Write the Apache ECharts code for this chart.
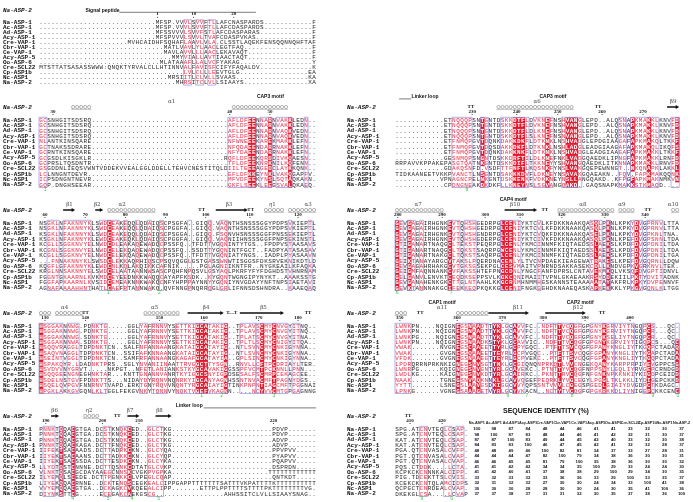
<!DOCTYPE html>
<html><head><meta charset="utf-8">
<script src="https://cdn.jsdelivr.net/npm/echarts@6/dist/echarts.min.js"></script>
<style>html,body{margin:0;padding:0;background:#fff}#c{width:693px;height:502px}</style>
</head><body><div id="c"></div><script>
const NAMES = ['Na-ASP-1','Ac-ASP-1','Ad-ASP-1','Acy-ASP-1','Cre-VAP-1','Cbr-VAP-1','Ce-VAP-1','Acy-ASP-5','Oo-ASP-6','Cre-SCL22','Cp-ASP1b','Nc-ASP1','Na-ASP-2'];
const ID_COLS = ['Na-ASP1','Ac-ASP1','Ad-ASP1','Acy-ASP1','Cre-VAP1','Cbr-VAP1','Ce-VAP1','Acy-ASP5','Oo-ASP6','Cre-SCL22','Cp-ASP1b','Nc-ASP1','Na-ASP-2'];
const ID_VALUES = [
 [100,98,87,84,48,44,46,41,41,33,32,30,37],
 [98,100,87,83,48,44,46,41,42,32,31,30,37],
 [87,87,100,83,49,44,45,42,40,33,32,30,38],
 [84,83,83,100,46,47,45,42,41,32,32,28,37],
 [48,48,49,46,100,82,81,34,37,33,27,28,31],
 [44,44,44,47,82,100,79,34,38,36,30,30,31],
 [46,46,45,45,81,79,100,35,38,36,30,30,32],
 [41,41,42,42,34,34,35,100,29,33,24,24,30],
 [41,42,40,41,37,38,38,29,100,29,34,30,35],
 [33,32,33,32,33,36,36,33,29,100,33,35,37],
 [32,31,32,32,27,30,30,24,34,33,100,41,38],
 [30,30,30,28,28,30,30,24,30,35,41,100,36],
 [37,37,38,37,31,31,32,30,35,37,38,36,100]
];

/* ---- Block L1 ---- */
const L1_seq = [
 '{29}MFSP.VVVLSVVFTLLAFCNASPARDS{12}F',
 '{29}MFSP.VVVLSVVFTLLAFCDASPARDS{12}F',
 '{29}MFSSVVVLSVVFSTLAFCDASPARAS.{12}F',
 '{29}MFSPVVVLSVVLTVAFCDASPVKAS..{12}F',
 '{22}MVHCAIDHFSQHAFLAAVLVLA.CLSSTLAQEKFENSQQNNQHFTAF',
 '{31}MATLVAVLYLAACLEGTFAQ{17}F',
 '{31}MAVLAVVLLLAACLEKAVAQT{16}F',
 '{33}MMYVIALLAVTIAACTAQT{16}F',
 '{30}MLATAAAFLLALVCFYAKAG{18}Y',
 'MTSTTATSASASSWWW:QNQKTYRVALCLLHTINNVALFAVISFCIFYFAQALDV{13}K',
 '{36}LVLCLLLEEVTGLG{17}EA',
 '{32}MRSIITLCLVLLSVAAS{18}KA',
 '{34}MHRSITCLVLLSIAAYS{16}XA'
];
const L1_red = [];
const L1_box = [[36,37],[39,40],[42,43]];
const L1_ruler = [[29,'1'],[38,'10'],[48,'20']];
const L1_helix = [], L1_arrow = [], L1_tt = [], L1_lab = [], L1_green = [];
const L1_motif = [[15.3,'Signal peptide',2]];
const L1_line = [[20,53,2]];

/* ---- Block L2 ---- */
const L2_seq = [
 'GCSNHGITSDSRQ{34}AFLDFEENNARNVAKKLEDN..',
 'GCSNHGITSDSRQ{34}AFLDFEENNARNVAKKLEDN..',
 'GCSNHGITSDSRQ{34}AFLDFEENNARNVAQKVEDN..',
 'GCSNHGITSDSRQ{34}AFLDFEENNARNVAQKVEDN..',
 'NLANTKINSQARE{34}NFWNEEEKAREKMAKKLEFN..',
 'GCTNAKSSDRARE{34}NFQDAEENDARRNAKKLEFN..',
 'GCRNTKINSQARE{34}NFYDAEENDARRNAKKLEFN..',
 'GCGSDLKISGKLR{33}RQFLDFEEKQRDDIVKQAESN..',
 'GCPRSLTQSDNTR{34}TFLDFEEKNRKNILKQFENN..',
 'GSGDDNLIEQSVWNTVDDEKVVEALGGLDDELLTEHVCNESTITQLDIILTEEEAGEDCLAYKKQNK..',
 'LCLNNGNTDEVR.{34}EFLDFKKEYNKLVAKQGAPFV.',
 'ICPSDNGNTNEVR{34}MFVDFEEKYNSLSQTAQKAKN.',
 'GQP.DNGHSEEAR{34}GKFLSEEKLEEGSVALQKAEQ.'
];
const L2_red = [52,53,57,62];
const L2_box = [[0,1],[47,53],[55,57],[59,62],[66,66]];
const L2_ruler = [[3,'30'],[47,'40'],[57,'50']];
const L2_helix = [[8,12],[48,61]], L2_arrow = [], L2_tt = [];
const L2_lab = [[32.5,'α1']];
const L2_motif = [[57.1,'CAP3 motif',0]];
const L2_line = [];
const L2_green = [[1,'1']];

/* ---- Block L3 ---- */
const L3_seq = [
 'NSGKLNFAKNNYKLSWDCEAKEQQLQDAIQSCPSGFA..GIQQ.VAQNTHSNSSSGGYPDPSVKIEPTLSG',
 'NSGKLNFAKNNYKLSWDCEAKEQQLQDAIQSCPGGFA..GIQQ.VAQNTHSNSSSGGYPDPSVKIEPTLSG',
 'KSGKLNFAKNNYKLSWDCEAKEQQLQDAIQSCPSGGA..GIQQ.FSQNVHSNSSSGGFPNSSEKIEPTLSG',
 'KSGKLNFAKNNYKLEWDCEAKEQKLQDAIQSCPGGFA..GIQQ.VAQNIIHNSSSGGFPNPSEKINSTLAS',
 'KCGLLSGGKNVYELNWDCDLEAKAQEWADQCPSSFQ..TFDTTVGQNINTYTGS..FPDPVSTAASAVSF',
 'KCGNLSGGKNVYELNWDCELEKQAQEWADQCPSSFQ..SSDTTYGQNINTFGCT..FADPYATASASAVNS',
 'KCGLLSGGKNVYELNWDCELEKQAQEWADQCPSSFQ..TFDTTVGQNIATYNGS..IADPLPYASAAVNS',
 '...FNNAKNNYKLSWSDCLEKKAQRHIQSCPSQVQGGLGSTGASSWNWTISGGSFDKSRVEKNIKDTLDN',
 'KQGFLGFAKNNYKLEWDCNLKQLAKQIKKCAFNIK.....PGLAGNIIKNTFR..NYGKEAILKFAQKA',
 'KRGLNNSAKNNYELSWDCELAATAANNWSASCPQHFNPQSVLGSYAQLPKRFYFYFDGHDSTVHNRNAMKY',
 'FGGNTGKAARNLKVKMDCEYEEDNKKWAQQCAYAPFKSDK..KYGQNTWGNGIPYNYKT..AAAKSSTGD',
 'FGGFAPKAARNLKVSIDCEMEAKNNKWAKQCNFYHPPPAYNNYYGQNIYNVGDAYYNFTNPSIAETAVIS',
 'AGNAFAAAAHHNTHATLCAEFRTANNWAKQ.QVFNNGPNQRRQGLGRLIFNNSDSHNDRA..KAAEQAQKA'
];
const L3_red = [17];
const L3_box = [[2,4],[6,12],[15,19],[21,21],[24,24],[27,27],[30,30],[37,37],[42,42],[45,46],[62,62],[67,67]];
const L3_ruler = [[1,'60'],[11,'70'],[21,'80'],[31,'90'],[41,'100'],[52,'110'],[64,'120']];
const L3_helix = [[17,28],[56,60],[62,68]];
const L3_arrow = [[6,8],[14,15],[44,51]];
const L3_tt = [[40,'TT'],[52.2,'TT']];
const L3_lab = [[7.1,'β1'],[14,'β2'],[20.2,'α2'],[46.8,'β3'],[57.6,'η1'],[66.5,'α3']];
const L3_motif = [], L3_line = [];
const L3_green = [[16.7,'1'],[29.5,'2']];

/* ---- Block L4 ---- */
const L4_seq = [
 'HSGGAKNNWG.PDNKTG.....GGLYAFRNNVYSETTKIGCATAKIG..TPLAVSCMYCNVGYITNQ',
 'HSGGAKNNWG.PDNKTG.....GGLYAFRNNVYSETTKIGCATAKIG..TPLAVSCMYCNVGYITNQ',
 'HSGGAKNNWG.SDNKTG.....GGLYAFRNNVYSETTKIGCATAKIG..TPLATSCMYCNVGYITNA',
 'HSGGAKNNWA.SDNKTG.....GGLYAFRNNVYSETTKIGCATAKIG..TPLTLSCMYCNIGYITQA',
 'HSQQVRAGGLTDPDNKTCN..SALFNFANNAANGKATAIGCATAYIG..NTLSVNCMYCNKIGYNNA',
 'HSAQVNAGGLTDPDNKTCN..SSIFAFKNNAANGKATAIGCATAYIG..NTLSVNCMYCNKIGYNNA',
 'HSEINTVGGLTDPDNKTCN..SAMFRFANNAANGKAGAFGCATAYIA..GPLSINCMYCNKIGYNNA',
 'HSPAKQYR.LDADNKTPRS..SGLYNVANIINAATTRVGGCTTYSGN..RNVLLCFTPCDRIAYLTER',
 'HSVDVVNYGRVT.....NKPGT..NFETLANIANKSTKYGCAVAKIGGSSPFVCMTPCKNNLLPNN',
 'HSQQGEENGNEGHNKTAR...KNTTGNANNVANRTKYIGGCSNYIGPDSESALFSCMRPCEKAGCEE',
 'HSDELNSTGVFPDNKTTS...NIDAYDYRQNVNQNRKYIGCANYAGNHSSNTNVACMFTPAGNYDGS',
 'HSQELQVPGVFNNRNVTVAPD.ERKTGNYRQVVNQNTYRGCAIAYIGTINKPNPNTIAGCMFTPGGNAIN',
 'HPGKLAKKGVGQNLKLTGGLFEKGVNKYTQNNVYNQKTVGEFVKAGKN.....NCYVVCMTGPGAGNNGK'
];
const L4_red = [0,39,40,41,46,55,58];
const L4_box = [[0,5],[7,9],[13,16],[25,26],[28,31],[34,46],[50,53],[54,61],[63,64]];
const L4_ruler = [[1,'130'],[11.1,'140'],[29.5,'150'],[40.6,'160'],[54.2,'170'],[64,'180']];
const L4_helix = [[0,2],[4,10],[26,34]];
const L4_arrow = [[37,45],[50,60]];
const L4_tt = [[11.1,'TT'],[47.5,'T....T'],[66.5,'TT']];
const L4_lab = [[5.9,'α4'],[28.3,'α5'],[41.1,'β4'],[55.4,'β5']];
const L4_motif = [], L4_line = [];
const L4_green = [[40,'1'],[45,'2'],[58,'3']];

/* ---- Block L5 ---- */
const L5_seq = [
 'PNNKTQQACGTGA.DCSTKNQKCED..GLCTKG{25}PDVP{7}',
 'PNNKTQQACGTGA.DCSTKNQKCED..GLCTKG{25}PDVP{7}',
 'PNNKTQQACGTGA.DCSTKNQKCED..GLCTKG{25}ADVP{7}',
 'PNNKTQQACKAGA.DCTTFNQKCED..GLCTKG{25}ADVP{7}',
 'IIFEKTSACAADS.DCTTADRKCKN..GLCYQA{25}PPVPVV{5}',
 'IIYEKTSACAANS.DCTTADKKCKN..GLCYQP{25}PYAPVV{5}',
 'IIYEKTSACSSDA.DCTTESDKCKN..GLCYKA{25}PQAPVV{5}',
 'LLYDTQSTCNNNE.DCTTQSNKCDTATGLCVKP{25}DSPRDN{5}',
 'VLNKTQSACGCDAYAAEGCNNSKCVGKPVGPKA{24}TTTTTTTTTTTT',
 'ILYEMQLSCEDE.DCTTPGNKKCLVPEGLCQAP{25}QNTKDT{5}',
 'LIYEKQQACRNNE..DCKTENQSCEGKEALCIPPGAPPTTTTTTTSATTTVKPATTTTKTTTTTTTTTTPTT',
 'VVYEMQQACGTGA..DCKAGKCVKQEEALCIPP{7}ETTPLPPTTTTSTTTTPKTTTTTTTTVG.',
 'DIYNKSTTCG.....ECEGAKCAEKGSCG{17}AHHSSITCLVLLSIAAYSNAG..'
];
const L5_red = [5,8,22];
const L5_box = [[1,3],[5,5],[8,8],[16,17],[20,22],[27,30]];
const L5_ruler = [[1.2,'190'],[15.3,'200'],[24.4,'210'],[57.9,'220']];
const L5_helix = [[11,14]];
const L5_arrow = [[3,4],[22,24],[29,32]];
const L5_tt = [[19,'TT']];
const L5_lab = [[3.4,'β6'],[12,'η2'],[22.2,'β7'],[29.5,'β8']];
const L5_motif = [[36.9,'Linker loop',0]];
const L5_line = [[41,68,0]];
const L5_green = [[7.9,'4'],[16.7,'5'],[22.7,'4'],[29.3,'5']];

/* ---- Block R1 ---- */
const R1_seq = [
 '{12}ETNQQQPSNTGNTDSKKDTFLDVKNEFNSHVANGLEPD..ALQSNAPKMAKKLKNVFD',
 '{12}ETNQQQPSNTGNTDSKKDTFLDVKNEFNSHVANGLEPD..ALQSNAPKMAKKLKNVFD',
 '{12}ETNQQQPSNTGNTDSKKDTFLDLKNEFNSHVANGLEPD..ALQSNAPKMAKKLKNVFD',
 '{12}ETNQQQPSNTGNTDSKKDTFLSLKNEFNSNVANGLEPD..ALQSNAPKMAKKLKNVFD',
 '{12}ETFNMQPGVTDQNKDAKKDKFLDTKNKLNSHVADGLEPDGIAAGAFAPKMAKQLTKKFD',
 '{12}ETFNMQPGVTDQSDAKKDKFLDTKNKLNSHLADGLEADGIAAGAFAPKMAKQLIKQFS',
 '{12}ETFNMQPGVTDQNKDAKKNKFLDTKNKLNSHVADGLEADGIAAGAFAPKMAKKLTKKFD',
 '{12}GESNMQPSNGNTDSKKDRFTILDLKNEFNKLVADGQAEDKLIPNGFAPKMAKKLRNFD',
 'RRPAVVKPPAKEPASGTQATNKGNTDSKKDIFLTKKNEYYSHVANGQAEDKLITKNNAPKMAKKLRNVFD',
 '{12}GDAKQSNFD.VSDFTTFNFTLKQSNKFYNSLVAKGQEPEWNNGT..NKQNAPKLAKKLNKVFD',
 'TIDKAANEETVKKPVANCTLNSGNTDSAKKKDVFLDKNEYNSAVAKGQAEAKN..FQV.FAPKMAKQQNKFD',
 '{11}VPNAGNCPELNKGNTDSKKENKFVDKKNEYNSLLANGQAKD..KFPGFAPKMAKNMKVNFD',
 '{12}CPDNGNEAKDKDKFLLKNEYNSLSGVANGQAKD..GAQSNAPKMAKKSTKMAQD'
];
const R1_red = [21,29,30,31,37,42,43,44,58,62,69];
const R1_box = [[14,18],[21,22],[26,32],[34,38],[41,45],[55,56],[58,64],[68,69]];
const R1_ruler = [[18.5,'230'],[29.5,'240'],[39.6,'250'],[50.5,'260'],[60.6,'270']];
const R1_helix = [[25,43]];
const R1_arrow = [[67,69]];
const R1_tt = [[18.2,'TT'],[49.5,'TT']];
const R1_lab = [[34.5,'α6'],[68,'β9']];
const R1_motif = [[6.9,'Linker loop',0],[38.4,'CAP3 motif',0]];
const R1_line = [[1,3,0]];
const R1_green = [[17.2,'8']];

/* ---- Block R2 ---- */
const R2_seq = [
 'GEVGAGAIRHGNKEVTQHSHGEDRPGLCENIYKTCVLKFDKKNAAKQASQLPKNLKPKYDVGPRNVLTTA',
 'GEVGAGAIRHGNKEVTQHSHGEDRPGLCENIYKTCVLKFDKKNAAKQASQLPKNLKPKYDVGPRNVLTTA',
 'GEVGAGAIRHGNKEVTQHSHGNDRPGLCENIYKTCVQKFDKKNAAKQASELPKNLKPKYDVGPKNLTNA',
 'GEVGAGAIRHGNKEVTQHSHGDERPGLCENIYKTCIVKFDKKNAAKQASQLPKNLKPEFDVGPSNNLTDA',
 'GTIGANARTNAQGCLTEKSTPEQRPGLCENLYKMCINNMFKIQTAEDSSLAEKSLKPDFDVGPDNILTDA',
 'GTIGANARTNAQGCLTQKSTSAQRPGWCENLYKMCINNMFKIQTAEDSSLAEKSLKPDFDVGPDNILTDA',
 'GTIGANARTNAKGCLTQKSTSAQRPGLCENLYKMCINNMFKIQTAEDSSLAEKSLKPDFDVGPDNILTGA',
 'GEIKTANAYARGCVTAKSLPQERDNACENLYLTVCNPDAEKIEAGEWATRAKESLKPEFDVGQRNLLDQW',
 'GEVGAGAHRHAKGCVTGKSGSEKPGLCESVMAITVPNRNDSAKKASEKCDLLKNDVGPKVGRKNVLTEK',
 'GEIGMFAQNNANKCVFAKSSHTEFPNGCDNLYNGCFANFDPRSLCNTAVEKMKQLVKSQFDVGPTIDNVLTPE',
 'GELGANVLENVKTCEQDKSEPPSVLKGKCQNIMAIITVPNLGKAEAAKRSYDDEKIILPKTYDVITADNKIGID',
 'GEVGANAHENKGKCTTGLNTAAHLKKGCRNMHNMMHGSKANNSTEAAAAATAYAKFRLKPKYDVPENNVFTMN',
 'GEVKTANNNAKGCIFEKKEQPKQKKGLCENIFNGKGGHDKNAAEQASKAPKEKKKLYPKGVGQNLKLTGG'
];
const R2_red = [0,3,13,26,27,28,49,52,59];
const R2_box = [[0,1],[3,4],[6,6],[13,15],[17,19],[26,30],[35,35],[48,50],[52,52],[58,60],[62,65]];
const R2_ruler = [[0.2,'280'],[11.1,'290'],[21.7,'300'],[30.3,'310'],[40.6,'320'],[51.2,'330'],[61.1,'340']];
const R2_helix = [[0,11],[40,53],[55,58],[68,69]];
const R2_arrow = [[27,34]];
const R2_tt = [[36.4,'TT'],[61.8,'TT']];
const R2_lab = [[5.2,'α7'],[29.1,'β10'],[45.8,'α8'],[55.4,'α9'],[68,'α10']];
const R2_motif = [[28.6,'CAP4 motif',0]];
const R2_line = [];
const R2_green = [[0,'6'],[13.3,'7']];

/* ---- Block R3 ---- */
const R3_seq = [
 'LWNKPN....NQIGNEGSNAADTTYKLGCAVVFC..NDFTTVCQGFGPGNYKGRVIYTNGQPCS...QC',
 'LWNKPN....NQIGNEGSNAADTTYKLGCAVVFC..NDFTTVCQGFGPGNYKGRVIYTNGQPCR...QC',
 'LWNKPG....NQIGNEGSNAADTTYKLGCAVVFC..NDFTTVCQGFGPGNYKSELIYTNGQPCR...QC',
 'LWNKPN....NQIGNEGSNAADKSTYKLGCAVVIC..NDFTTVCQGFGPGNYKGRVIYTIGQPCS...QC',
 'VWAK.......NVGNEGSCAAEETTYRLGCPYGQC..PTFTTSVCQGFGPANYKNGLIYTKGQPCTADAQC',
 'VWAK.......GVGNEGSQAAEETTEYRLGCPVGQC..PTFTTSVCQGFGPANYKNGLIYTKGAPCTADAQC',
 'VFDK.......GVGNEGSNAAEGTTEYRLGCPVEKC..PTFTTSVCQGFGPANYKNGLIYTKGQPCTADAQC',
 'LPDRQRRNPRKNKIGNEGSNVSGTTNKLGCGIQNQNPRKQTLVVCNGEKQANYKARPPRPIYEVGPPCSGC',
 'LWNRPG.....KQIGNEGSNVGNTYRLGCAVEKC..PTNTTYVCQGFNPPSNYLGQLIYRVGEPCRNDGDC',
 'LWDLKG.....KAIGNEGSNVKDTYRLGCAIRKC..PKNTTRVCQGFNFGNKNPKKNKIYKIGDPCEIDDQC',
 'NAAK.......TGNEGSNVAQKNNKLGCAVVQGEFPEQRKLYVGCEGYLPGGLTKLKKLIYDIGEPCKKDEIC',
 'YYTT.......LSNEGSLAAVGSDKIGGCVVYQPSSNTVVVLCGEGSPGEDLGIAIYDVGDPCTKDAGC',
 'LPNKG......VGNEGSAAAGETVYRLGCYVKACN..NCTYTVCQGFGPGKRKKDLIYNIGEPCKKCENC'
];
const R3_red = [15,18,20,24,25,29,40,43,51,62,69];
const R3_box = [[0,3],[15,22],[24,27],[29,31],[35,38],[39,45],[48,53],[54,58],[61,63],[69,69]];
const R3_ruler = [[0.7,'350'],[14.8,'360'],[25.9,'370'],[36,'380'],[46.3,'390'],[57.4,'400']];
const R3_helix = [[0,2],[15,22]];
const R3_arrow = [[23,32],[37,46]];
const R3_tt = [[5.7,'TT'],[50.5,'TT']];
const R3_lab = [[11.1,'α11'],[29.8,'β11'],[44.6,'β12']];
const R3_motif = [[11.1,'CAP1 motif',0],[45.1,'CAP2 motif',0]];
const R3_line = [];
const R3_green = [[27.3,'6'],[32,'7'],[43.1,'8'],[63,'9'],[69.2,'0']];

/* ---- Block R4 ---- */
const R4_seq = [
 'SPG.ATCNVTEQLCSAP.',
 'SPG.ATCNVTEQLCSAP.',
 'KAT.ATCNVTEQLCSAP.',
 'KAT.ATCNVTEQLCSAP.',
 'PGA.QTCNVASALCVFP.',
 'PGT.QTCNVASALCVAP.',
 'PGT.QTCNVASALCVAP.',
 'PQS.CTDDK....LCTA.',
 'KCPKCKCNNNKALCIPP.',
 'PIG.TDCEKTTSLCVIS.',
 'KCEKCKCNTQLAMCIDPS',
 'QCPGCTCNRDEALCVAP.',
 'DKEKGLCSA....LCVAP'
];
const R4_red = [];
const R4_box = [[6,7],[12,13],[15,16]];
const R4_ruler = [[3.2,'410'],[11.1,'420']];
const R4_helix = [], R4_arrow = [], R4_lab = [], R4_motif = [], R4_line = [];
const R4_tt = [[2.7,'TT']];
const R4_green = [[6.1,'9'],[13.5,'0']];

const BLOCKS = [
 {x:36, nameX:0, y0:17, ncol:69, seq:L1_seq, red:L1_red, box:L1_box, ruler:L1_ruler, helix:L1_helix, arrow:L1_arrow, tt:L1_tt, lab:L1_lab, motif:L1_motif, line:L1_line, green:L1_green},
 {x:36, nameX:0, y0:120, ncol:69, seq:L2_seq, red:L2_red, box:L2_box, ruler:L2_ruler, helix:L2_helix, arrow:L2_arrow, tt:L2_tt, lab:L2_lab, motif:L2_motif, line:L2_line, green:L2_green},
 {x:36, nameX:0, y0:223, ncol:69, seq:L3_seq, red:L3_red, box:L3_box, ruler:L3_ruler, helix:L3_helix, arrow:L3_arrow, tt:L3_tt, lab:L3_lab, motif:L3_motif, line:L3_line, green:L3_green},
 {x:36, nameX:0, y0:326, ncol:69, seq:L4_seq, red:L4_red, box:L4_box, ruler:L4_ruler, helix:L4_helix, arrow:L4_arrow, tt:L4_tt, lab:L4_lab, motif:L4_motif, line:L4_line, green:L4_green},
 {x:36, nameX:0, y0:429, ncol:69, seq:L5_seq, red:L5_red, box:L5_box, ruler:L5_ruler, helix:L5_helix, arrow:L5_arrow, tt:L5_tt, lab:L5_lab, motif:L5_motif, line:L5_line, green:L5_green},
 {x:395, nameX:347, y0:120, ncol:70, seq:R1_seq, red:R1_red, box:R1_box, ruler:R1_ruler, helix:R1_helix, arrow:R1_arrow, tt:R1_tt, lab:R1_lab, motif:R1_motif, line:R1_line, green:R1_green},
 {x:395, nameX:347, y0:223, ncol:70, seq:R2_seq, red:R2_red, box:R2_box, ruler:R2_ruler, helix:R2_helix, arrow:R2_arrow, tt:R2_tt, lab:R2_lab, motif:R2_motif, line:R2_line, green:R2_green},
 {x:395, nameX:347, y0:326, ncol:70, seq:R3_seq, red:R3_red, box:R3_box, ruler:R3_ruler, helix:R3_helix, arrow:R3_arrow, tt:R3_tt, lab:R3_lab, motif:R3_motif, line:R3_line, green:R3_green},
 {x:395, nameX:347, y0:429, ncol:18, seq:R4_seq, red:R4_red, box:R4_box, ruler:R4_ruler, helix:R4_helix, arrow:R4_arrow, tt:R4_tt, lab:R4_lab, motif:R4_motif, line:R4_line, green:R4_green}
];

const CW = 4.06, RH = 5.4;
const RED = '#e3172c', BOXTXT = '#ea2a45', FRAME = '#8f8fdc';
const CATS = ['m','l','s','r'].concat(NAMES).concat(['f']);
const expand = s => s.replace(/\{(\d+)\}/g, (m, n) => '.'.repeat(+n));
const fit = (s, n) => (s + '.'.repeat(n)).slice(0, n);

function txt(x, y, text, font, fill){
  return {type:'text', x:x, y:y, style:{text:text, font:font, fill:fill, align:'center', verticalAlign:'middle', textAlign:'center', textVerticalAlign:'middle'}};
}
function cellRender(params, api){
  const p = api.coord([api.value(0), api.value(1)]);
  const bw = api.size([1, 0])[0];
  const cls = api.value(3);
  const ch = String.fromCharCode(api.value(2));
  const fill = cls === 2 ? '#ffffff' : (cls === 1 ? BOXTXT : '#2a2a2a');
  const font = cls === 2 ? 'bold 6px "Liberation Mono"' : '6px "Liberation Mono"';
  const t = txt(p[0], p[1] + 0.3, ch, font, fill);
  if (cls === 2) {
    return {type:'group', children:[
      {type:'rect', shape:{x:p[0]-bw/2, y:p[1]-RH/2, width:bw+0.25, height:RH+0.25}, style:{fill:RED}}, t]};
  }
  return t;
}
function frameRender(params, api){
  const a = api.coord([api.value(0), api.value(1)]);
  const b = api.coord([api.value(2), api.value(3)]);
  return {type:'rect', shape:{x:a[0], y:a[1]-RH/2, width:b[0]-a[0], height:b[1]-a[1]+RH},
          style:{fill:'none', stroke:FRAME, lineWidth:0.7}};
}
function annRender(a, api){
  const bw = api.size([1, 0])[0];
  const X = c => api.coord([c + 0.5, 0])[0];
  const Y = r => api.coord([0, r])[1];
  if (a.k === 'helix') {
    const y = Y(2) - 2.2, ch = [];
    for (let c = a.s; c <= a.e; c++) ch.push({type:'circle', shape:{cx:X(c), cy:y, r:bw*0.4}, style:{fill:'none', stroke:'#666', lineWidth:0.5}});
    ch.push({type:'line', shape:{x1:X(a.s)-bw/2, y1:y+bw*0.4+0.8, x2:X(a.e)+bw/2, y2:y+bw*0.4+0.8}, style:{stroke:'#888', lineWidth:0.5}});
    return {type:'group', children:ch};
  }
  if (a.k === 'arrow') {
    const y = Y(2) - 2.2, x1 = X(a.s) - bw/2, x2 = X(a.e) + bw/2;
    const hl = Math.min(3.5, (x2 - x1) * 0.5);
    return {type:'polygon', shape:{points:[[x1,y-0.7],[x2-hl,y-0.7],[x2-hl,y-2.1],[x2,y],[x2-hl,y+2.1],[x2-hl,y+0.7],[x1,y+0.7]]}, style:{fill:'#111'}};
  }
  if (a.k === 'tt') return txt(X(a.c), Y(2) - 2.2, a.t, 'bold 5px "Liberation Serif"', '#111');
  if (a.k === 'lab') return txt(X(a.c), Y(1) - 1.8, a.t, '5.5px "DejaVu Serif"', '#444');
  if (a.k === 'motif') return txt(X(a.c), Y(a.r) - (a.r === 0 ? 1.5 : 2.2), a.t, 'bold 5px "Liberation Sans"', '#111');
  if (a.k === 'line') {
    const y = Y(a.r) - (a.r === 0 ? 1.5 : 2.2) + 2;
    return {type:'line', shape:{x1:X(a.s)-bw/2, y1:y, x2:X(a.e)+bw/2, y2:y}, style:{stroke:'#444', lineWidth:0.7}};
  }
  if (a.k === 'ruler') {
    return {type:'group', children:[
      txt(X(a.c), Y(3) - 3.3, a.t, 'bold 5px "Liberation Serif"', '#111'),
      {type:'circle', shape:{cx:X(a.c), cy:Y(3) - 0.2, r:0.5}, style:{fill:'#111'}}]};
  }
  if (a.k === 'green') return txt(X(a.c), Y(17) - 0.5, a.t, '5px "Liberation Sans"', '#3fc43f');
  return null;
}

const grids = [], xAxes = [], yAxes = [], series = [];
BLOCKS.forEach((b, i) => {
  grids.push({left:b.x, top:b.y0 - 4.5*RH, width:b.ncol*CW, height:18*RH});
  xAxes.push({gridIndex:i, type:'value', min:0, max:b.ncol, show:false});
  yAxes.push({gridIndex:i, type:'category', data:CATS, inverse:true,
    axisLine:{show:false}, axisTick:{show:false}, splitLine:{show:false},
    axisLabel:{interval:0, align:'left', margin:b.x - b.nameX, fontFamily:'Liberation Mono', fontWeight:'bold', fontSize:6, color:'#111',
      formatter:v => v === 's' ? '{i|Na-ASP-2}' : (v.length > 1 ? v : ''),
      rich:{i:{fontStyle:'italic', fontWeight:'bold', fontFamily:'Liberation Mono', fontSize:6, color:'#111', padding:[0,0,4,0]}}}});
  const red = new Set(b.red), boxed = new Set();
  b.box.forEach(([s, e]) => { for (let c = s; c <= e; c++) boxed.add(c); });
  const cells = [];
  b.seq.forEach((s0, r) => {
    const s = fit(expand(s0), b.ncol);
    for (let c = 0; c < b.ncol; c++) {
      const ch = s[c];
      const cls = (red.has(c) && ch !== '.') ? 2 : ((boxed.has(c) && ch !== '.') ? 1 : 0);
      cells.push([c + 0.5, 4 + r, ch.charCodeAt(0), cls]);
    }
  });
  series.push({type:'custom', xAxisIndex:i, yAxisIndex:i, data:cells, renderItem:cellRender, silent:true, z:2});
  series.push({type:'custom', xAxisIndex:i, yAxisIndex:i, data:b.box.map(([s, e]) => [s, 4, e + 1, 16]), renderItem:frameRender, silent:true, z:3});
  const ann = [];
  b.helix.forEach(([s, e]) => ann.push({k:'helix', s, e}));
  b.arrow.forEach(([s, e]) => ann.push({k:'arrow', s, e}));
  b.tt.forEach(([c, t]) => ann.push({k:'tt', c, t}));
  b.lab.forEach(([c, t]) => ann.push({k:'lab', c, t}));
  b.motif.forEach(([c, t, r]) => ann.push({k:'motif', c, t, r}));
  b.line.forEach(([s, e, r]) => ann.push({k:'line', s, e, r}));
  b.ruler.forEach(([c, t]) => ann.push({k:'ruler', c, t}));
  b.green.forEach(([c, t]) => ann.push({k:'green', c, t}));
  series.push({type:'custom', xAxisIndex:i, yAxisIndex:i, data:ann.map(() => [0.5, 2]),
    renderItem:(p, api) => annRender(ann[p.dataIndex], api), silent:true, z:4});
});

const TI = BLOCKS.length;
grids.push({left:468.25, top:429 - RH/2, width:227.5, height:13*RH});
xAxes.push({gridIndex:TI, type:'category', data:ID_COLS, position:'top', axisLine:{show:false}, axisTick:{show:false},
  axisLabel:{interval:0, fontSize:3.8, fontWeight:'bold', fontFamily:'Liberation Sans', color:'#222', margin:1}});
yAxes.push({gridIndex:TI, type:'category', data:NAMES, inverse:true, show:false});
const idCells = [];
ID_VALUES.forEach((row, r) => row.forEach((v, c) => idCells.push([c, r, v])));
series.push({type:'custom', xAxisIndex:TI, yAxisIndex:TI, data:idCells, silent:true,
  renderItem:(p, api) => { const q = api.coord([api.value(0), api.value(1)]);
    return txt(q[0], q[1], String(api.value(2)), 'bold 4.3px "Liberation Sans"', '#111'); }});

const chart = echarts.init(document.getElementById('c'), null, {renderer:'canvas'});
chart.setOption({
  backgroundColor:'#ffffff',
  animation:false,
  title:{text:'SEQUENCE IDENTITY (%)', left:503, top:408, padding:0,
    textStyle:{fontFamily:'Liberation Sans', fontWeight:'bold', fontSize:7, color:'#111'}},
  grid:grids, xAxis:xAxes, yAxis:yAxes, series:series
});
</script></body></html>
